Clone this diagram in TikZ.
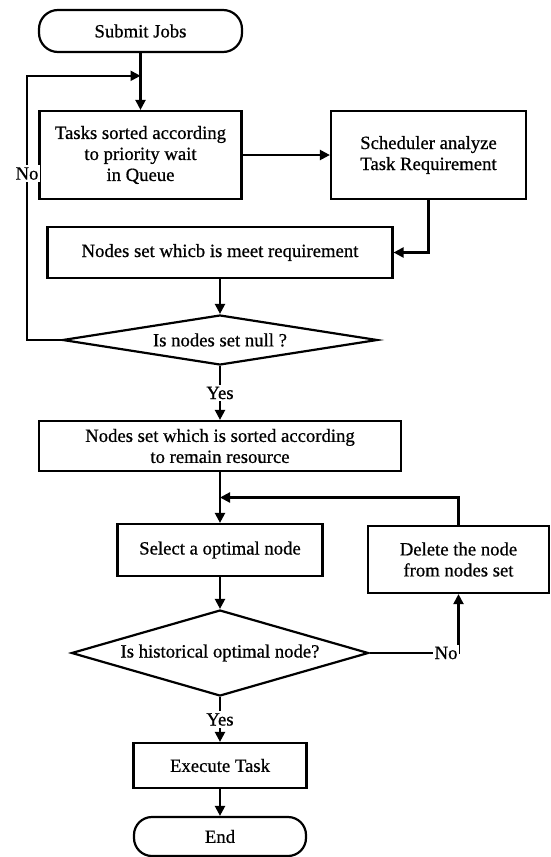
\documentclass[tikz,border=0pt]{standalone}
\usepackage{fontspec}
\setmainfont{Liberation Serif}
\newfontfamily\chartfont{Liberation Serif}[FakeBold=0.7]
\usetikzlibrary{calc,shapes.geometric,arrows.meta}

\begin{document}
\begin{tikzpicture}[x=1pt, y=1pt, line width=2.2pt, every node/.style={font=\chartfont\fontsize{18.7}{21}\selectfont, align=center, inner sep=0pt}, box/.style={rectangle, draw}, term/.style={rectangle, rounded corners=19pt, draw}, decision/.style={diamond, draw}, arrow/.style={-{Triangle[length=10pt,width=10pt]}}, lbl/.style={fill=white, inner sep=2pt}]

    \useasboundingbox (0,0) rectangle (550,-857);

    % Nodes
    \node[term, minimum width=203pt, minimum height=42pt] (submit) at (140.5,-31) {Submit Jobs};
    \node[box, minimum width=202pt, minimum height=88pt, node distance=124pt, below of=submit] (tasks) {Tasks sorted according\\to priority wait\\in Queue};
    \node[box, minimum width=195pt, minimum height=88pt, node distance=288pt, right of=tasks] (sched) {Scheduler analyze\\Task Requirement};

    \node[box, minimum width=345pt, minimum height=51pt] (meet) at (220,-252.5) {Nodes set whicb is meet requirement};
    \node[decision, shape aspect=6.3, minimum width=315pt, minimum height=50pt, node distance=87.5pt, below of=meet] (null) {Is nodes set null ?};
    \node[box, minimum width=362pt, minimum height=50pt, node distance=106pt, below of=null] (sorted) {Nodes set which is sorted according\\to remain resource};
    \node[box, minimum width=205pt, minimum height=52pt, node distance=104pt, below of=sorted] (select) {Select a optimal node};
    \node[box, minimum width=181pt, minimum height=67pt] (delete) at (458.5,-559.5) {Delete the node\\from nodes set};
    \node[decision, shape aspect=3.45, minimum width=297pt, minimum height=86pt, node distance=103pt, below of=select] (hist) {Is historical optimal node?};
    \node[box, minimum width=173pt, minimum height=45pt, node distance=112.5pt, below of=hist] (exec) {Execute Task};
    \node[term, minimum width=172pt, minimum height=39pt, rounded corners=18pt, node distance=71pt, below of=exec] (end) {End};

    % Joins
    \coordinate (loopin) at ($(submit.south)!0.4!(tasks.north)$);
    \coordinate (noturn) at (27,0 |- loopin);
    \coordinate (backjoin) at ($(sorted.south)!0.5!(select.north)$);

    % Edges
    \draw[arrow] (submit) -- (tasks);
    \draw[arrow] (tasks) -- (sched);
    \draw[arrow] (sched.south) |- (meet.east);
    \draw[arrow] (meet) -- (null);
    \draw[arrow] (null.west) -| (noturn) node[lbl, pos=0.815] {No} -- (loopin);
    \draw[arrow] (null) -- node[lbl] {Yes} (sorted);
    \draw[arrow] (sorted) -- (select);
    \draw[arrow] (delete.north) |- (backjoin);
    \draw[arrow] (select) -- (hist);
    \draw[arrow] (hist.east) -| node[lbl, pos=0.43] {No} (delete.south);
    \draw[arrow] (hist) -- node[lbl] {Yes} (exec);
    \draw[arrow] (exec) -- (end);

\end{tikzpicture}
\end{document}
